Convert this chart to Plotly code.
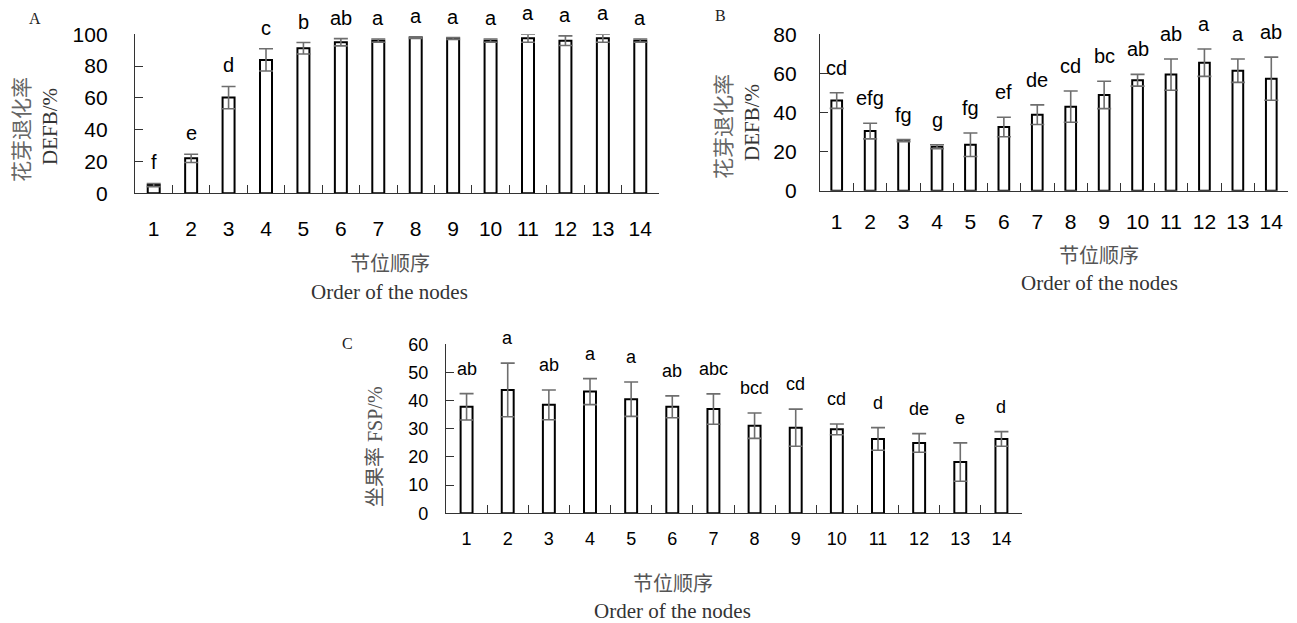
import plotly.graph_objects as go

W, H = 1297, 623

nodes = [str(i) for i in range(1, 15)]

a_mean = [5.2, 22.0, 60.2, 83.9, 91.2, 95.0, 96.0, 97.9, 97.3, 96.0, 97.5, 96.0, 97.5, 96.0]
a_err = [1.0, 2.6, 7.0, 7.0, 3.6, 2.3, 1.0, 0.5, 0.6, 1.0, 2.5, 3.0, 2.5, 1.0]
a_letters = ["f", "e", "d", "c", "b", "ab", "a", "a", "a", "a", "a", "a", "a", "a"]

b_mean = [46.1, 30.5, 25.6, 22.5, 23.5, 32.6, 38.9, 43.0, 49.0, 56.5, 59.4, 65.5, 61.4, 57.3]
b_err = [4.0, 4.0, 0.5, 1.0, 6.0, 5.0, 5.0, 8.0, 7.0, 3.0, 8.0, 7.0, 6.0, 11.0]
b_letters = ["cd", "efg", "fg", "g", "fg", "ef", "de", "cd", "bc", "ab", "ab", "a", "a", "ab"]

c_mean = [37.8, 43.8, 38.5, 43.2, 40.5, 37.8, 37.0, 31.1, 30.4, 29.8, 26.4, 25.0, 18.2, 26.4]
c_err = [4.7, 9.5, 5.3, 4.6, 6.1, 3.9, 5.4, 4.5, 6.6, 1.9, 4.0, 3.3, 6.8, 2.6]
c_letters = ["ab", "a", "ab", "a", "a", "ab", "abc", "bcd", "cd", "cd", "d", "de", "e", "d"]

ytitle_cn = "花芽退化率"
ytitle_en = "DEFB/%"
ytitle_c = "坐果率 FSP/%"
xtitle_cn = "节位顺序"
xtitle_en = "Order of the nodes"

SANS = "Liberation Sans, Arial, sans-serif"
SERIF = "Liberation Serif, Times New Roman, serif"
CJK = "Noto Sans CJK SC, sans-serif"


def px(x):
    return x / W


def py(y):
    return 1 - y / H


panels = [
    dict(name="A", mean=a_mean, err=a_err, letters=a_letters, x0=135, x1=659, yb=193.3, yt=34.3,
         ymax=100, dtick=20, fs=21, lfs=20, bw=0.32, standx=16, standy=22, lshift=21,
         lab=(35, 18), ycn=(20, 130), yen=(50, 127), xcn=(390, 262), xen=(389, 292)),
    dict(name="B", mean=b_mean, err=b_err, letters=b_letters, x0=820, x1=1288, yb=190.7, yt=34.3,
         ymax=80, dtick=20, fs=21, lfs=20, bw=0.32, standx=12, standy=18, lshift=25,
         lab=(720, 15), ycn=(722, 127), yen=(752, 123), xcn=(1099, 254), xen=(1099, 283)),
    dict(name="C", mean=c_mean, err=c_err, letters=c_letters, x0=446, x1=1022, yb=513.3, yt=344.3,
         ymax=60, dtick=10, fs=18, lfs=18, bw=0.29, standx=9, standy=13, lshift=25,
         lab=(347, 343), ycn=None, yen=None, xcn=(673, 582), xen=(672, 611)),
]

fig = go.Figure()
annotations = []
layout_axes = {}

for i, p in enumerate(panels, start=1):
    xa = "x" if i == 1 else f"x{i}"
    ya = "y" if i == 1 else f"y{i}"
    fig.add_trace(go.Bar(
        x=nodes, y=p["mean"], width=p["bw"],
        marker=dict(color="white", line=dict(color="black", width=2)),
        error_y=dict(type="data", array=p["err"], visible=True, color="#6e6e6e",
                     thickness=1.6, width=7),
        xaxis=xa, yaxis=ya, showlegend=False, hoverinfo="skip",
    ))
    layout_axes[f"xaxis{'' if i == 1 else i}"] = dict(
        domain=[px(p["x0"]), px(p["x1"])], anchor=ya, type="category",
        range=[-0.5, 13.5], tickson="boundaries", ticks="inside", ticklen=8,
        tickwidth=1, tickcolor="#333", showline=True, linecolor="#333", linewidth=1.3,
        showgrid=False, zeroline=False, tickfont=dict(family=SANS, size=p["fs"], color="black"),
        ticklabelstandoff=p["standx"], fixedrange=True, automargin=False,
    )
    layout_axes[f"yaxis{'' if i == 1 else i}"] = dict(
        domain=[py(p["yb"]), py(p["yt"])], anchor=xa, range=[0, p["ymax"]],
        tickmode="linear", tick0=0, dtick=p["dtick"], ticks="inside", ticklen=8,
        tickwidth=1, tickcolor="#333", showline=True, linecolor="#333", linewidth=1.3,
        showgrid=False, zeroline=False, tickfont=dict(family=SANS, size=p["fs"], color="black"),
        ticklabelstandoff=p["standy"], fixedrange=True, automargin=False,
    )
    for k, (m, e, t) in enumerate(zip(p["mean"], p["err"], p["letters"])):
        annotations.append(dict(x=k, y=m + e, xref=xa, yref=ya, text=t, showarrow=False,
                                yanchor="middle", yshift=p["lshift"],
                                font=dict(family=SANS, size=p["lfs"], color="black")))
    annotations.append(dict(x=px(p["lab"][0]), y=py(p["lab"][1]), xref="paper", yref="paper",
                            text=p["name"], showarrow=False, xanchor="center", yanchor="middle",
                            font=dict(family=SERIF, size=16, color="#222")))
    if p["ycn"] is not None:
        annotations.append(dict(x=px(p["ycn"][0]), y=py(p["ycn"][1]), xref="paper", yref="paper",
                                text=ytitle_cn, textangle=-90, showarrow=False,
                                xanchor="center", yanchor="middle",
                                font=dict(family=CJK, size=21, color="#666")))
        annotations.append(dict(x=px(p["yen"][0]), y=py(p["yen"][1]), xref="paper", yref="paper",
                                text=ytitle_en, textangle=-90, showarrow=False,
                                xanchor="center", yanchor="middle",
                                font=dict(family=SERIF, size=21, color="#333")))
    else:
        annotations.append(dict(x=px(375), y=py(447), xref="paper", yref="paper",
                                text=ytitle_c, textangle=-90, showarrow=False,
                                xanchor="center", yanchor="middle",
                                font=dict(family=SERIF + ", " + CJK, size=20, color="#555")))
    annotations.append(dict(x=px(p["xcn"][0]), y=py(p["xcn"][1]), xref="paper", yref="paper",
                            text=xtitle_cn, showarrow=False, xanchor="center", yanchor="middle",
                            font=dict(family=CJK, size=20, color="#555")))
    annotations.append(dict(x=px(p["xen"][0]), y=py(p["xen"][1]), xref="paper", yref="paper",
                            text=xtitle_en, showarrow=False, xanchor="center", yanchor="middle",
                            font=dict(family=SERIF, size=21, color="#333")))

fig.update_layout(
    width=W, height=H, margin=dict(l=0, r=0, t=0, b=0, autoexpand=False),
    paper_bgcolor="white", plot_bgcolor="white",
    annotations=annotations, **layout_axes,
)

fig.write_html("out.html", config={"displayModeBar": False})
